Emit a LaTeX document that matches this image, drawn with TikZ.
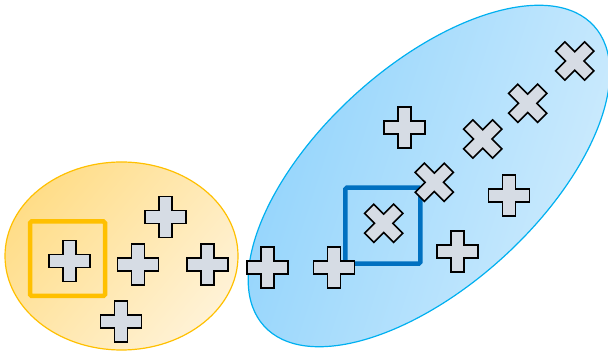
\documentclass[tikz,border=0pt]{standalone}
\definecolor{orangeB}{HTML}{FFC000}
\definecolor{orangeD}{HTML}{FFDD88}
\definecolor{orangeL}{HTML}{FFF2D6}
\definecolor{blueB}{HTML}{00B0F0}
\definecolor{blueD}{HTML}{8ED2FC}
\definecolor{blueL}{HTML}{D2EDFD}
\definecolor{boxblue}{HTML}{0070C0}
\definecolor{markfill}{HTML}{D6DCE4}
\tikzset{
  markstyle/.style={draw=black, fill=markfill, line width=1.6pt, line join=miter},
  pics/plusmark/.style={code={
    \draw[markstyle] (-6.5,-20.5) -- (6.5,-20.5) -- (6.5,-6.5) -- (20.5,-6.5) -- (20.5,6.5) -- (6.5,6.5) -- (6.5,20.5) -- (-6.5,20.5) -- (-6.5,6.5) -- (-20.5,6.5) -- (-20.5,-6.5) -- (-6.5,-6.5) -- cycle;
  }},
  selbox/.style={line width=4.5pt, rounded corners=1.5pt},
}
\begin{document}
\begin{tikzpicture}[x=1pt,y=-1pt]
\useasboundingbox (0,0) rectangle (608,352);
% left cluster
\shade[left color=orangeD, right color=orangeL, shading angle=50, draw=orangeB, line width=1.2pt]
  (121.5,256) ellipse [x radius=116.5, y radius=94];
% right cluster
\shade[left color=blueD, right color=blueL, shading angle=72, draw=blueB, line width=1.2pt]
  (429,176) ellipse [x radius=223, y radius=110, rotate=42.3];
% selection boxes
\draw[selbox, draw=orangeB] (30,221.5) rectangle (105,296);
\draw[selbox, draw=boxblue] (345.3,187.7) rectangle (420.3,263.7);
% left marks
\pic at (69.7,261) {plusmark};
\pic at (165.7,217) {plusmark};
\pic at (138,264.7) {plusmark};
\pic at (207.2,264.7) {plusmark};
\pic at (121,321.7) {plusmark};
% right plus marks
\pic at (267.2,267.7) {plusmark};
\pic at (333.8,267.7) {plusmark};
\pic at (404.5,127.8) {plusmark};
\pic at (457.2,251.3) {plusmark};
\pic at (509,195.3) {plusmark};
% right cross marks
\pic[rotate=45] at (383.7,223.3) {plusmark};
\pic[rotate=45] at (434.3,182.3) {plusmark};
\pic[rotate=45] at (482.7,139) {plusmark};
\pic[rotate=45] at (527.7,103.3) {plusmark};
\pic[rotate=45] at (574.7,61) {plusmark};
\end{tikzpicture}
\end{document}
